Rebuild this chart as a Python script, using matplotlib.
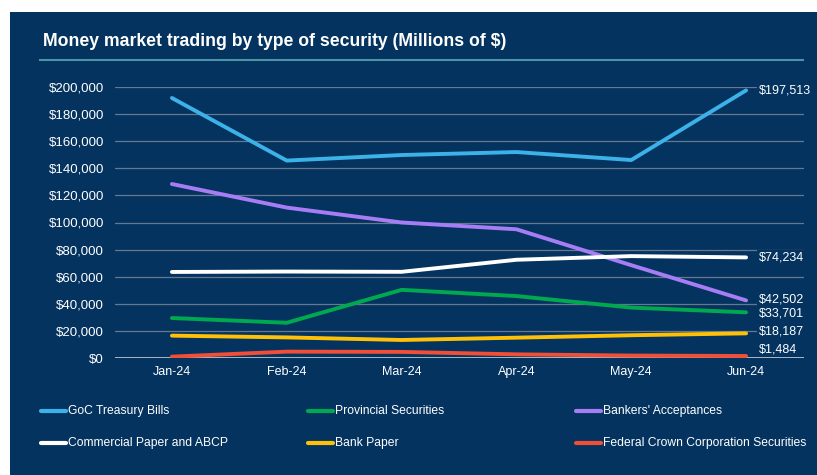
import matplotlib.pyplot as plt
from matplotlib.patches import Rectangle
from matplotlib.lines import Line2D
from matplotlib.ticker import FuncFormatter

months = ["Jan-24", "Feb-24", "Mar-24", "Apr-24", "May-24", "Jun-24"]

goc_tbills = [191900, 145700, 149800, 152000, 146100, 197513]
provincial = [29500, 26000, 50300, 45700, 37200, 33701]
bankers_acc = [128400, 111000, 100000, 95000, 68500, 42502]
commercial = [63500, 63800, 63600, 72500, 75200, 74234]
bank_paper = [16500, 15200, 13300, 15000, 16800, 18187]
fed_crown = [1000, 4700, 4500, 2700, 1800, 1484]

series = [
    ("GoC Treasury Bills", goc_tbills, "#3DB2E8"),
    ("Provincial Securities", provincial, "#00A94F"),
    ("Bankers' Acceptances", bankers_acc, "#A77DF5"),
    ("Commercial Paper and ABCP", commercial, "#FFFFFF"),
    ("Bank Paper", bank_paper, "#FFC107"),
    ("Federal Crown Corporation Securities", fed_crown, "#F04E37"),
]

navy = "#03335E"
plt.rcParams["font.family"] = ["Liberation Sans", "DejaVu Sans"]

fig = plt.figure(figsize=(8.17, 4.75), dpi=100)
fig.patch.set_facecolor("white")
W, H = 817, 475
bg = Rectangle((10 / W, 0), 1, 1 - 12 / H, transform=fig.transFigure,
               facecolor=navy, edgecolor="none", zorder=-10)
fig.patches.append(bg)

fig.text(43 / W, 1 - 42 / H, "Money market trading by type of security (Millions of $)",
         color="white", fontsize=12.7, fontweight="bold", va="center", ha="left")
fig.add_artist(Line2D([40 / W, 803 / W], [1 - 59.5 / H, 1 - 59.5 / H], transform=fig.transFigure,
                      color="#4C93A8", lw=1.5))

ax = fig.add_axes([114.5 / W, 1 - 358 / H, (803.5 - 114.5) / W, (358 - 87) / H])
ax.set_facecolor("none")
ax.set_zorder(5)
x = range(len(months))
for name, vals, col in series:
    ax.plot(x, vals, color=col, lw=2.8, solid_capstyle="round", label=name, zorder=3)

ax.set_xlim(-0.5, 5.5)
ax.set_ylim(0, 200000)
ax.set_yticks(range(0, 200001, 20000))
ax.yaxis.set_major_formatter(FuncFormatter(lambda v, p: f"${v:,.0f}"))
ax.set_xticks(list(x))
ax.set_xticklabels(months)
ax.tick_params(colors="white", labelsize=9, length=0, pad=6)
ax.tick_params(axis="y", pad=7.5, labelsize=9.5)
ax.grid(axis="y", color="#7F8A99", lw=0.9, alpha=0.8)
for s in ax.spines.values():
    s.set_visible(False)
ax.axhline(0, color="#C8CCD2", lw=1.2, zorder=2)

offsets = {"GoC Treasury Bills": 0, "Bankers' Acceptances": 1, "Provincial Securities": -0.5,
           "Commercial Paper and ABCP": 0, "Bank Paper": 1, "Federal Crown Corporation Securities": 5}
for name, vals, col in series:
    ax.annotate(f"${vals[-1]:,.0f}", (5, vals[-1]), xytext=(9, offsets[name]),
                textcoords="offset points", color="white", fontsize=9, va="center", ha="left",
                annotation_clip=False, zorder=4,
                bbox=dict(boxstyle="square,pad=0.15", facecolor=navy, edgecolor="none"))

leg_x = [40, 307, 575]
leg_y = [411, 443]
for i, (name, vals, col) in enumerate(series):
    cx = leg_x[i % 3]
    cy = leg_y[i // 3]
    fig.add_artist(Line2D([(cx + 1) / W, (cx + 26) / W], [1 - cy / H, 1 - cy / H], transform=fig.transFigure,
                          color=col, lw=3, solid_capstyle="round"))
    fig.text((cx + 28) / W, 1 - cy / H, name, color="white", fontsize=8.7, va="center", ha="left")

fig.savefig("out.png", dpi=100, facecolor=fig.get_facecolor())
